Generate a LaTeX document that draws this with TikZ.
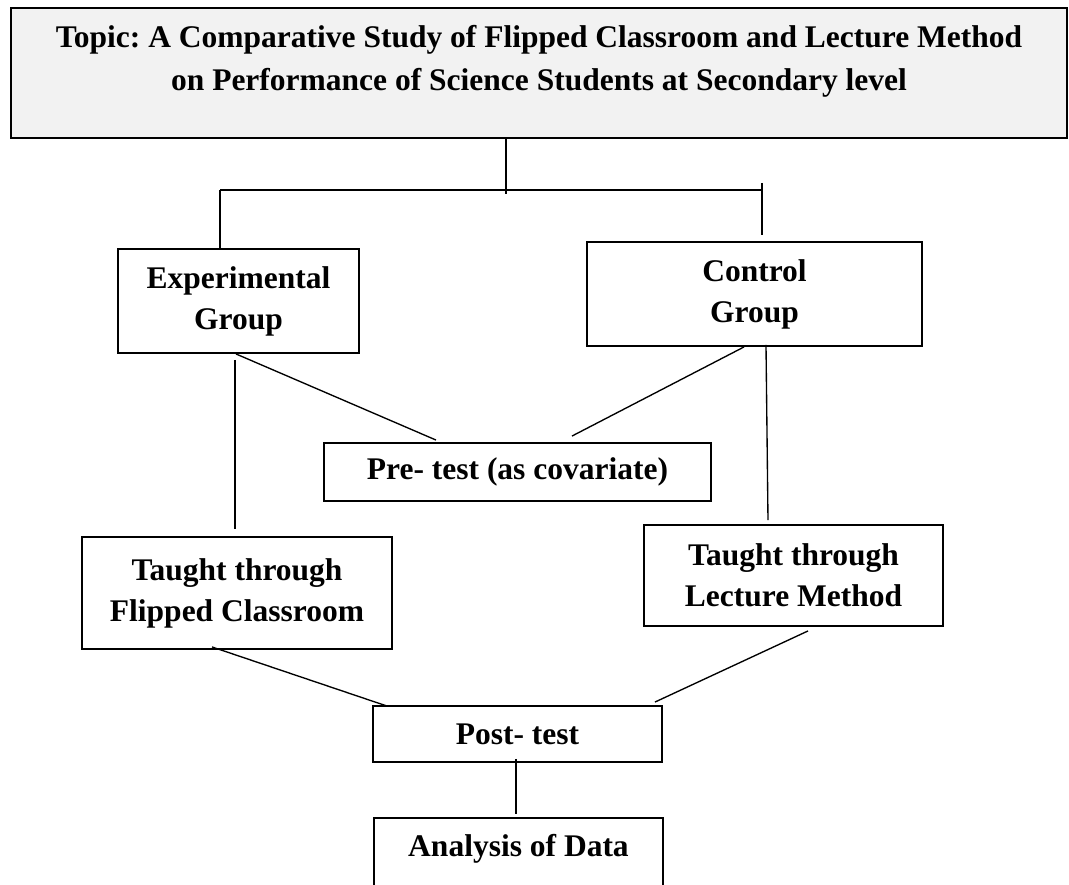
\documentclass[tikz,border=0pt]{standalone}
\usepackage{fontspec}
\setmainfont{Liberation Serif}
\definecolor{topicfill}{HTML}{F2F2F2}
\frenchspacing
\begin{document}
\begin{tikzpicture}[
  x=1pt, y=-1pt,
  boxline/.style={line width=1.9pt, draw=black},
  box/.style={boxline, rectangle, inner sep=0pt, align=center,
    font=\bfseries\fontsize{31.5}{41}\selectfont},
  label/.style={inner sep=0pt, align=center,
    font=\bfseries\fontsize{31.5}{43}\selectfont},
  link/.style={line width=1.35pt, draw=black}
]
\clip (0,0) rectangle (1069,885);
\fill[white] (0,0) rectangle (1069,885);

% title box
\node[boxline, fill=topicfill, rectangle, minimum width=1056pt, minimum height=130pt]
  (topic) at (539,73) {};
\node[label] (topictext) at (539,61.5)
  {Topic: A Comparative Study of Flipped Classroom and Lecture Method\\
   on Performance of Science Students at Secondary level};

% groups
\node[box, minimum width=241pt, minimum height=104pt] (exp) at (238.5,301)
  {Experimental\\Group};
\node[box, minimum width=335pt, minimum height=104pt] (ctrl) at (754.5,294)
  {Control\\Group};
\node[box, minimum width=387pt, minimum height=58pt] (pre) at (517.5,472)
  {Pre- test (as covariate)};
\node[box, minimum width=310pt, minimum height=112pt] (flip) at (237,593)
  {Taught through\\Flipped Classroom};
\node[box, minimum width=299pt, minimum height=101pt] (lect) at (793.5,575.5)
  {Taught through\\Lecture Method};
\node[box, minimum width=289pt, minimum height=56pt] (post) at (517.5,734)
  {Post- test};

% last box runs off the lower edge
\node[label, minimum width=289pt, minimum height=62pt] (ana) at (518.5,849)
  {Analysis of Data};
\draw[boxline] ([yshift=-30pt]ana.south west) -- (ana.north west)
  -- (ana.north east) -- ([yshift=-30pt]ana.south east);

% branching from the title
\coordinate (jm) at (506,194);
\coordinate (jl) at (220,190);
\coordinate (jr) at (762,190);
\coordinate (jrt) at (762,183);
\coordinate (jrb) at (762,235);
\draw[link] ([xshift=-33pt]topic.south) -- (jm);
\draw[link] (jl) -- (jr);
\draw[link] (jl) -- (exp.north -| jl);
\draw[link] (jrt) -- (jrb);

% groups to pre-test
\draw[link] ([xshift=-2.5pt]exp.south) -- ([xshift=-81.5pt,yshift=2pt]pre.north);
\draw[link] ([xshift=-10.5pt]ctrl.south) -- ([xshift=54.5pt,yshift=6pt]pre.north);

% groups to treatments
\draw[link] ([xshift=-3.5pt,yshift=-6pt]exp.south) -- ([xshift=-2pt,yshift=7pt]flip.north);
\draw[link] ([xshift=11.5pt,yshift=2pt]ctrl.south) -- ([xshift=-25.5pt,yshift=4pt]lect.north);

% treatments to post-test
\draw[link] ([xshift=-25pt,yshift=3pt]flip.south) -- ([xshift=-130.5pt,yshift=-1pt]post.north);
\draw[link] ([xshift=14.5pt,yshift=-4pt]lect.south) -- ([xshift=137.5pt,yshift=3pt]post.north);

% post-test to analysis
\draw[link] ([xshift=-1.5pt,yshift=4pt]post.south) -- ([xshift=-2.5pt,yshift=4pt]ana.north);
\end{tikzpicture}
\end{document}
